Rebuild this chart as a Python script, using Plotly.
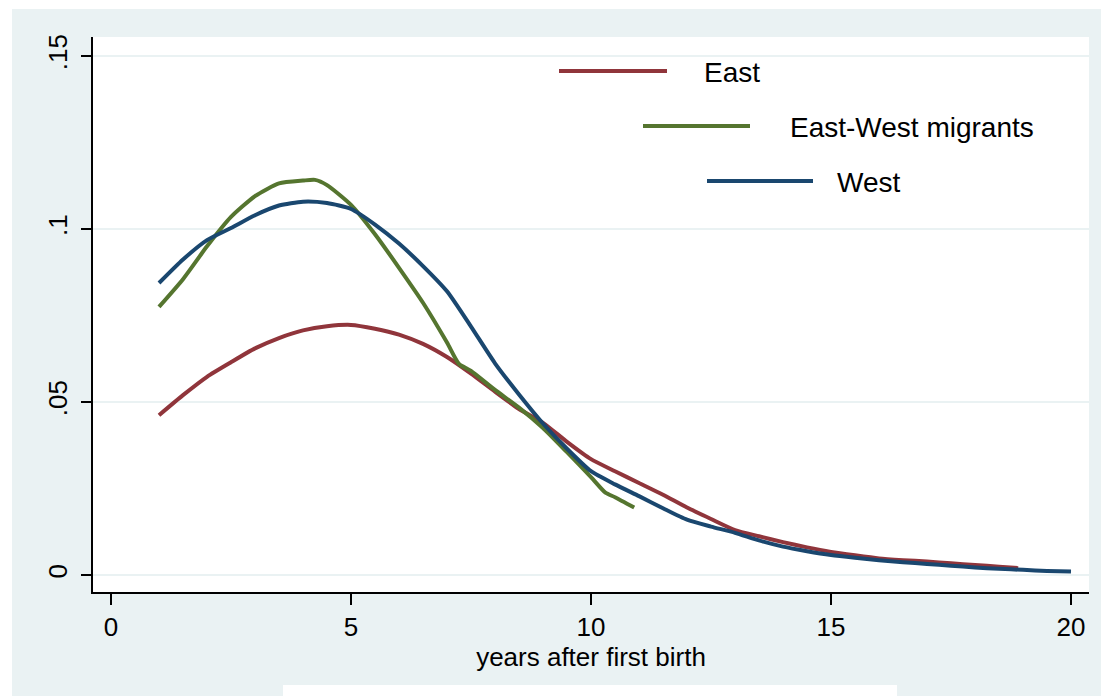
import plotly.graph_objects as go

# ---- data ----
east_x = [1, 1.5, 2, 2.5, 3, 3.5, 4, 4.5, 5, 5.5, 6, 6.5, 7, 7.5, 8, 8.5, 9, 9.5,
          10, 10.5, 11, 11.5, 12, 12.5, 13, 13.5, 14, 14.5, 15, 15.5, 16, 16.5,
          17, 17.5, 18, 18.5, 18.9]
east_y = [0.0462, 0.0520, 0.0573, 0.0615, 0.0655, 0.0685, 0.0707, 0.0719, 0.0723,
          0.0712, 0.0695, 0.0668, 0.0630, 0.0582, 0.0530, 0.0480, 0.0440, 0.0385,
          0.0335, 0.0300, 0.0266, 0.0232, 0.0195, 0.0162, 0.0130, 0.0112, 0.0095,
          0.0080, 0.0067, 0.0057, 0.0048, 0.0043, 0.0039, 0.0034, 0.0029, 0.0024,
          0.0020]

mig_x = [1, 1.5, 2, 2.5, 3, 3.5, 4, 4.25, 4.5, 5, 5.5, 6, 6.5, 7, 7.25, 7.5, 8,
         8.5, 9, 9.5, 10, 10.3, 10.5, 10.9]
mig_y = [0.0775, 0.0855, 0.0950, 0.1035, 0.1095, 0.1132, 0.1140, 0.1142, 0.1127,
         0.1070, 0.0985, 0.0888, 0.0787, 0.0672, 0.0610, 0.0590, 0.0535, 0.0484,
         0.0425, 0.0355, 0.0283, 0.0238, 0.0225, 0.0195]

west_x = [1, 1.5, 2, 2.5, 3, 3.5, 4, 4.5, 5, 5.5, 6, 6.5, 7, 7.5, 8, 8.5, 9, 9.5,
          10, 10.5, 11, 11.5, 12, 12.5, 13, 13.5, 14, 14.5, 15, 15.5, 16, 16.5,
          17, 17.5, 18, 18.5, 19, 19.5, 20]
west_y = [0.0844, 0.0912, 0.0968, 0.1003, 0.1040, 0.1068, 0.1079, 0.1075, 0.1058,
          0.1013, 0.0958, 0.0893, 0.0820, 0.0718, 0.0612, 0.0522, 0.0438, 0.0365,
          0.0300, 0.0262, 0.0228, 0.0193, 0.0160, 0.0140, 0.0122, 0.0100, 0.0082,
          0.0069, 0.0058, 0.0050, 0.0043, 0.0037, 0.0032, 0.0027, 0.0022, 0.0018,
          0.0015, 0.0012, 0.0010]

series_names = ["East", "East-West migrants", "West"]
series_colors = ["#90353B", "#55752F", "#1A476F"]

x_ticks = [0, 5, 10, 15, 20]
y_ticks = [0, 0.05, 0.1, 0.15]
y_tick_labels = ["0", ".05", ".1", ".15"]

# ---- figure geometry (screen pixels; the page body adds an 8px offset) ----
OFF = 8
W, H = 1109 - OFF, 696 - OFF
L, R, T, B = 93 - OFF, 1089 - OFF, 37 - OFF, 592 - OFF
PW, PH = R - L, B - T


def px(xs):
    """screen x pixel -> paper x"""
    return (xs - OFF - L) / PW


def py(ys):
    """screen y pixel -> paper y"""
    return (B - (ys - OFF)) / PH


FONT = "Liberation Sans, Arial, sans-serif"
BG = "#EAF2F3"

fig = go.Figure()
for xs, ys, name, col in zip([east_x, mig_x, west_x], [east_y, mig_y, west_y],
                             series_names, series_colors):
    fig.add_trace(go.Scatter(x=xs, y=ys, mode="lines", name=name,
                             line=dict(color=col, width=4, shape="spline", smoothing=0.6),
                             showlegend=False, hoverinfo="x+y+name"))

# legend (staggered, like the original)
leg_rows = [  # line x0, x1, y, text x   (screen pixels)
    (559, 667, 71, 702),
    (643, 750, 126, 788),
    (707, 813, 181, 835),
]
shapes = []
annotations = []
for (x0, x1, yy, tx), name, col in zip(leg_rows, series_names, series_colors):
    shapes.append(dict(type="line", xref="paper", yref="paper",
                       x0=px(x0), x1=px(x1), y0=py(yy), y1=py(yy),
                       line=dict(color=col, width=4)))
    annotations.append(dict(xref="paper", yref="paper", x=px(tx), y=py(yy + 1),
                            text=name, showarrow=False, xanchor="left", yanchor="middle",
                            font=dict(family=FONT, size=28, color="black")))

# white borders at the left & top edges, and cut-off white box at bottom
shapes.append(dict(type="rect", xref="paper", yref="paper", x0=px(0), x1=px(12),
                   y0=py(700), y1=py(0), fillcolor="white", line=dict(width=0), layer="below"))
shapes.append(dict(type="rect", xref="paper", yref="paper", x0=px(0), x1=px(1115),
                   y0=py(9), y1=py(0), fillcolor="white", line=dict(width=0), layer="below"))
shapes.append(dict(type="rect", xref="paper", yref="paper", x0=px(283), x1=px(897),
                   y0=py(700), y1=py(685), fillcolor="white", line=dict(width=0), layer="below"))

fig.update_layout(
    width=W, height=H,
    margin=dict(l=L, r=W - R, t=T, b=H - B),
    paper_bgcolor=BG, plot_bgcolor="white",
    font=dict(family=FONT, size=26, color="black"),
    shapes=shapes, annotations=annotations,
    showlegend=False,
)
fig.update_xaxes(
    range=[-0.375, 20.375], tickvals=x_ticks, ticktext=[str(v) for v in x_ticks],
    showgrid=False, zeroline=False, showline=True, linecolor="black", linewidth=2,
    ticks="outside", ticklen=11, tickwidth=2, tickcolor="black",
    tickfont=dict(family=FONT, size=26),
    title=dict(text="years after first birth", font=dict(family=FONT, size=26), standoff=1),
)
fig.update_yaxes(
    range=[-0.0049, 0.1555], tickvals=y_ticks, ticktext=y_tick_labels,
    showgrid=True, gridcolor=BG, gridwidth=2, zeroline=False,
    showline=True, linecolor="black", linewidth=2,
    ticks="outside", ticklen=10, tickwidth=2, tickcolor="black",
    tickangle=-90, tickfont=dict(family=FONT, size=26), ticklabelstandoff=4,
)

fig.write_html("out.html")
